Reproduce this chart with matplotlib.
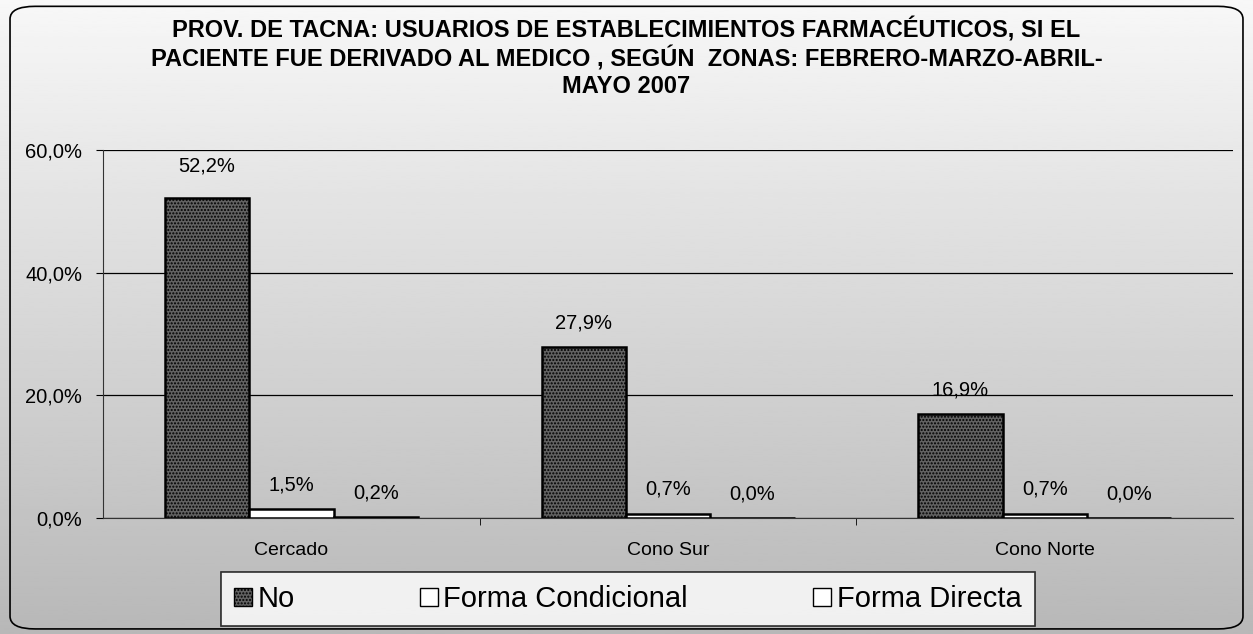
import numpy as np
import matplotlib.pyplot as plt
from matplotlib.patches import FancyBboxPatch

plt.rcParams['font.family'] = ['Liberation Sans', 'DejaVu Sans']

zonas = ['Cercado', 'Cono Sur', 'Cono Norte']
series = ['No', 'Forma Condicional', 'Forma Directa']
valores = {
    'No': [52.2, 27.9, 16.9],
    'Forma Condicional': [1.5, 0.7, 0.7],
    'Forma Directa': [0.2, 0.0, 0.0],
}
titulo = ('PROV. DE TACNA: USUARIOS DE ESTABLECIMIENTOS FARMACÉUTICOS, SI EL\n'
          'PACIENTE FUE DERIVADO AL MEDICO , SEGÚN  ZONAS: FEBRERO-MARZO-ABRIL-\n'
          'MAYO 2007')

fig = plt.figure(figsize=(12.53, 6.34), dpi=100)

# fondo gris en degradado (imita el punteado del original)
bg = fig.add_axes([0, 0, 1, 1], zorder=0)
grad = np.linspace(0.97, 0.72, 256).reshape(-1, 1)
bg.imshow(grad, aspect='auto', cmap='gray', vmin=0, vmax=1, extent=[0, 1, 0, 1])
bg.set_xlim(0, 1)
bg.set_ylim(0, 1)
bg.axis('off')
bg.add_patch(FancyBboxPatch((0.008, 0.008), 0.984, 0.982,
                            boxstyle='round,pad=0,rounding_size=0.02',
                            fill=False, ec='black', lw=1.2,
                            transform=bg.transAxes))

fig.text(0.5, 0.972, titulo, ha='center', va='top', fontsize=17,
         fontweight='bold', linespacing=1.2)

ax = fig.add_axes([0.0822, 0.183, 0.902, 0.580], zorder=1)
ax.patch.set_alpha(0)

x = np.arange(len(zonas))
w = 0.224
estilos = {
    'No': dict(color='#626262', hatch='.....'),
    'Forma Condicional': dict(color='white', hatch=None),
    'Forma Directa': dict(color='white', hatch=None),
}
for i, s in enumerate(series):
    pos = x + (i - 1) * w
    bars = ax.bar(pos, valores[s], width=w, color=estilos[s]['color'],
                  hatch=estilos[s]['hatch'], edgecolor='black', lw=1.8,
                  label=s, zorder=3)
    for b, v in zip(bars, valores[s]):
        off = 3.6 if v > 40 else 2.4
        ax.text(b.get_x() + b.get_width() / 2, v + off,
                f'{v:.1f}%'.replace('.', ','), ha='center', va='bottom',
                fontsize=14.5, zorder=4)

ax.set_xlim(-0.5, 2.5)
ax.set_ylim(0, 60)
ax.set_yticks([0, 20, 40, 60])
ax.set_yticklabels([f'{t:.1f}%'.replace('.', ',') for t in [0, 20, 40, 60]],
                   fontsize=14.5)
ax.set_xticks(x)
ax.set_xticklabels(zonas, fontsize=14)
ax.set_xticks([0.5, 1.5], minor=True)
ax.tick_params(axis='x', which='major', length=0, pad=17)
ax.tick_params(axis='x', which='minor', length=5, direction='out')
ax.tick_params(axis='y', length=5, direction='out', pad=10)
ax.grid(axis='y', color='black', lw=0.9, zorder=1)
for sp in ['top', 'right']:
    ax.spines[sp].set_visible(False)
ax.spines['left'].set_color('#333333')
ax.spines['bottom'].set_color('#333333')

leg = fig.legend(loc='center', bbox_to_anchor=(0.501, 0.055),
                 ncol=3, fontsize=21, frameon=True, fancybox=False,
                 edgecolor='black', handlelength=0.6, handleheight=0.6,
                 handletextpad=0.2, columnspacing=4.3, borderpad=0.45,
                 borderaxespad=0)
leg.get_frame().set_linewidth(1.2)
leg.get_frame().set_facecolor('white')
for h in leg.legend_handles:
    h.set_linewidth(1.0)

fig.savefig('out.png', dpi=100)
